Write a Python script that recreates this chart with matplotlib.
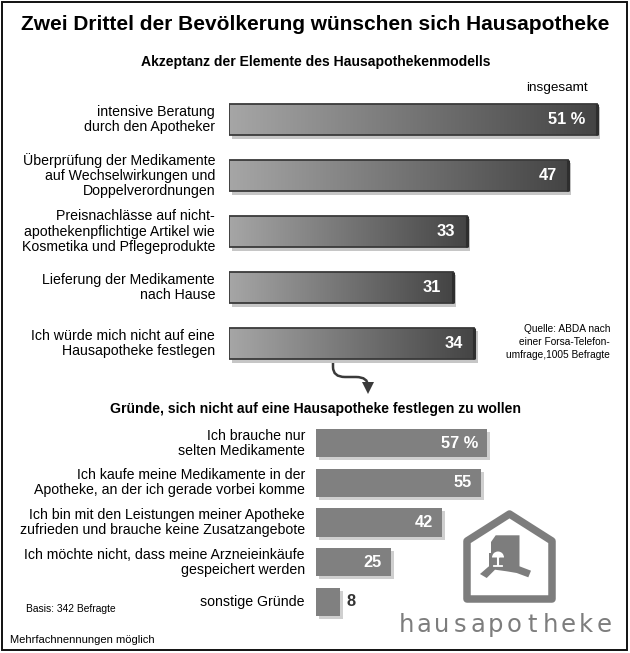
import numpy as np
import matplotlib
matplotlib.use('Agg')
import matplotlib.pyplot as plt
import matplotlib.patheffects as pe
from matplotlib.colors import LinearSegmentedColormap
from matplotlib.patches import Polygon, Rectangle, PathPatch, Wedge
from matplotlib.path import Path

plt.rcParams['font.family'] = ['Liberation Sans', 'DejaVu Sans']

W, H = 630, 653

### data
title = "Zwei Drittel der Bevölkerung wünschen sich Hausapotheke"
top_title = "Akzeptanz der Elemente des Hausapothekenmodells"
bot_title = "Gründe, sich nicht auf eine Hausapotheke festlegen zu wollen"

top_labels = ["intensive Beratung\ndurch den Apotheker",
              "Überprüfung der Medikamente\nauf Wechselwirkungen und\nDoppelverordnungen",
              "Preisnachlässe auf nicht-\napothekenpflichtige Artikel wie\nKosmetika und Pflegeprodukte",
              "Lieferung der Medikamente\nnach Hause",
              "Ich würde mich nicht auf eine\nHausapotheke festlegen"]
top_values = [51, 47, 33, 31, 34]

bot_labels = ["Ich brauche nur\nselten Medikamente",
              "Ich kaufe meine Medikamente in der\nApotheke, an der ich gerade vorbei komme",
              "Ich bin mit den Leistungen meiner Apotheke\nzufrieden und brauche keine Zusatzangebote",
              "Ich möchte nicht, dass meine Arzneieinkäufe\ngespeichert werden",
              "sonstige Gründe"]
bot_values = [57, 55, 42, 25, 8]

source = "Quelle: ABDA nach\neiner Forsa-Telefon-\numfrage,1005 Befragte"
basis = "Basis: 342 Befragte"
note = "Mehrfachnennungen möglich"
logo_word = "hausapotheke"

fig = plt.figure(figsize=(W / 100, H / 100), dpi=100)


def px_axes(l, t, r, b, z=1):
    ax = fig.add_axes([l / W, 1 - b / H, (r - l) / W, (b - t) / H], zorder=z)
    ax.set_axis_off()
    return ax


### overlay in pixel coordinates for texts, frame, arrow and logo
ov = px_axes(0, 0, W, H, z=0)
ov.set_xlim(0, W)
ov.set_ylim(H, 0)
ov.add_patch(Rectangle((1.5, 1.5), 625, 648, fill=False, lw=1.4, ec='#111111'))

ov.text(315, 25, title, ha='center', va='center', fontsize=15, fontweight='bold')
ov.text(316, 62, top_title, ha='center', va='center', fontsize=10.1, fontweight='bold')
ov.text(588, 88, "insgesamt", ha='right', va='center', fontsize=9.7)
ov.text(316, 409, bot_title, ha='center', va='center', fontsize=10.1, fontweight='bold')
ov.text(610, 342, source, ha='right', va='center', fontsize=7.3, linespacing=1.4)
ov.text(26, 609, basis, ha='left', va='center', fontsize=7.4)
ov.text(10, 640, note, ha='left', va='center', fontsize=8)

### top chart
ax1 = px_axes(229, 91.5, 620, 371.5)
xmax1 = 391 / 7.22
ya = np.arange(len(top_values))
hb = 0.57
shadow = [pe.SimplePatchShadow(offset=(2.2, -2.2), shadow_rgbFace='#c6c6c6', alpha=1), pe.Normal()]
base = ax1.barh(ya, top_values, height=hb, color='#888888', lw=0, zorder=1)
for b in base:
    b.set_path_effects(shadow)
grad = LinearSegmentedColormap.from_list('g', ['#a6a6a6', '#444444'])
g = np.linspace(0, 1, 256).reshape(1, -1)
for b, v, y in zip(base, top_values, ya):
    im = ax1.imshow(g, cmap=grad, extent=(0, v, y + hb / 2, y - hb / 2),
                    aspect='auto', zorder=2, interpolation='bilinear')
    im.set_clip_path(b)
ax1.barh(ya, top_values, height=hb, fill=False, ec='#3a3a3a', lw=1.3, zorder=3)
ax1.vlines(top_values, ya - hb / 2, ya + hb / 2, color='#2e2e2e', lw=2.2, zorder=3)
ax1.set_xlim(0, xmax1)
ax1.set_ylim(4.5, -0.5)
for i, (lbl, v) in enumerate(zip(top_labels, top_values)):
    ax1.annotate(lbl, (0, i), xytext=(-10, 0), textcoords='offset points',
                 ha='right', va='center', multialignment='right',
                 fontsize=10.2, linespacing=1.1, annotation_clip=False)
    txt = f"{v} %" if i == 0 else str(v)
    ax1.annotate(txt, (v, i), xytext=(-8.5, 0), textcoords='offset points',
                 ha='right', va='center', color='white', fontsize=11.8,
                 fontweight='bold', zorder=4)

### bottom chart
ax2 = px_axes(316, 423.5, 620, 621.5)
xmax2 = 304 / 3.0
yb = np.arange(len(bot_values))
hb2 = 0.71
shadow2 = [pe.SimplePatchShadow(offset=(2.2, -2.2), shadow_rgbFace='#cfcfcf', alpha=1), pe.Normal()]
bars2 = ax2.barh(yb, bot_values, height=hb2, color='#808080', lw=0)
for b in bars2:
    b.set_path_effects(shadow2)
ax2.set_xlim(0, xmax2)
ax2.set_ylim(4.5, -0.5)
for i, (lbl, v) in enumerate(zip(bot_labels, bot_values)):
    ax2.annotate(lbl, (0, i), xytext=(-8, 0), textcoords='offset points',
                 ha='right', va='center', multialignment='right',
                 fontsize=10.2, linespacing=1.1, annotation_clip=False)
    if v >= 20:
        txt = f"{v} %" if i == 0 else str(v)
        ax2.annotate(txt, (v, i), xytext=(-6.5, 0), textcoords='offset points',
                     ha='right', va='center', color='white', fontsize=11.8,
                     fontweight='bold')
    else:
        ax2.annotate(str(v), (v, i), xytext=(5, 0), textcoords='offset points',
                     ha='left', va='center', color='#333333', fontsize=11.8,
                     fontweight='bold')

### arrow from the last top bar to the second chart
verts = [(333, 361), (333, 367), (333, 377), (345, 377),
         (356, 377), (368, 377), (368, 386)]
codes = [Path.MOVETO, Path.LINETO, Path.CURVE3, Path.CURVE3, Path.LINETO,
         Path.CURVE3, Path.CURVE3]
ov.add_patch(PathPatch(Path(verts, codes), fill=False, ec='#3a3a3a', lw=1.8))
ov.add_patch(Polygon([(362, 382), (374, 382), (368, 394)], closed=True, fc='#3a3a3a', ec='none'))

### logo
lc = '#7d7d7d'
ov.add_patch(Polygon([(467, 599), (552, 599), (552, 541), (509.5, 514), (467, 541)],
                     closed=True, fill=False, ec=lc, lw=5.4, joinstyle='round'))
a_shape = [(491, 542), (495.7, 535.3), (519.5, 535.3), (519.5, 566.3), (531, 570.7),
           (528.3, 577.3), (516.7, 573), (506.7, 571.3), (495, 569.7), (486.7, 578),
           (480, 574), (487.7, 567.3), (489, 566.3), (489, 553), (491, 553)]
ov.add_patch(Polygon(a_shape, closed=True, fc=lc, ec='none'))
ov.add_patch(Wedge((498, 557.5), 6, 180, 360, fc='white', ec='none'))
ov.plot([498, 498], [557, 565], color='white', lw=1.5)
ov.plot([494, 502], [565.5, 565.5], color='white', lw=1.3)
ov.plot([496, 500, 499], [556, 553, 557], color='white', lw=0.9)
xs = np.linspace(406, 604, len(logo_word))
for ch, x in zip(logo_word, xs):
    ov.text(x, 632, ch, ha='center', va='baseline', fontsize=17.5, color=lc,
            family='DejaVu Sans')

fig.savefig('out.png', dpi=100)
